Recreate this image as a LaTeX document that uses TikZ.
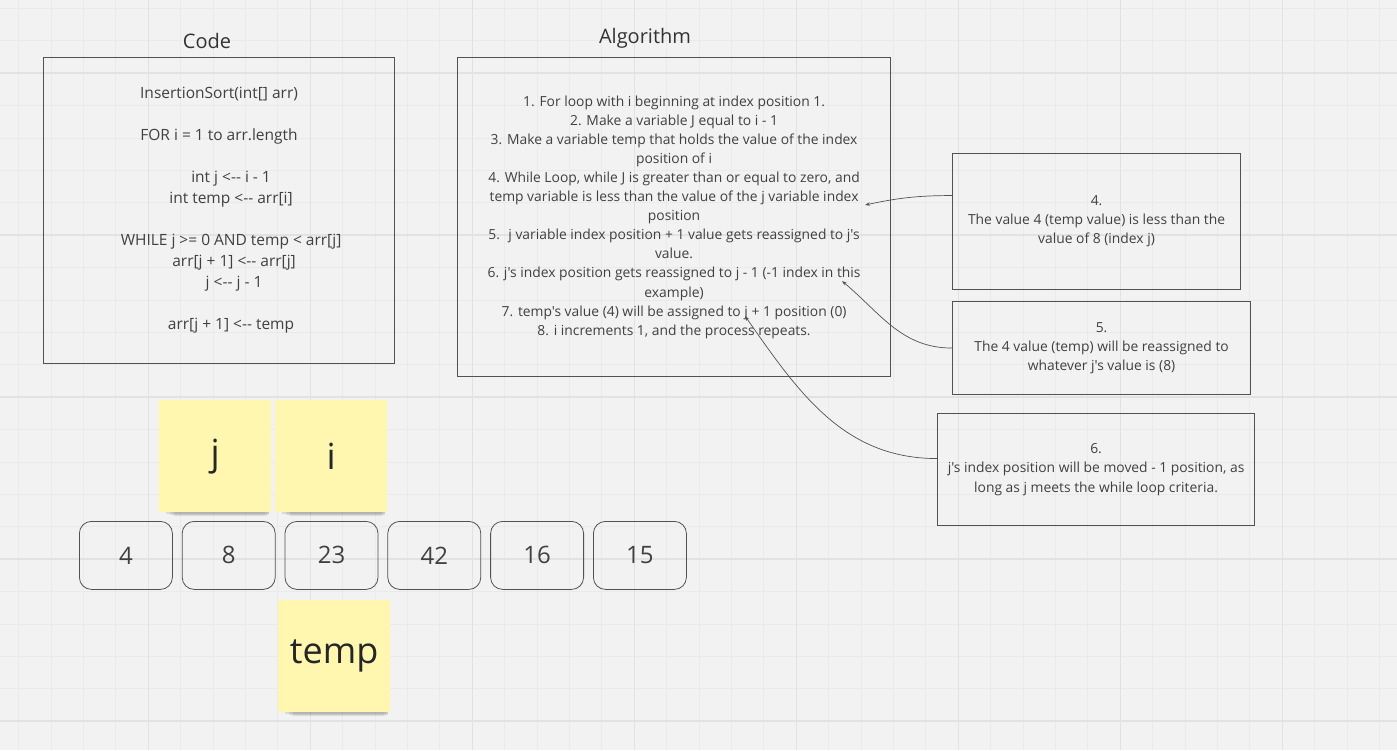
\documentclass[tikz,border=0pt]{standalone}
\usepackage{fontspec}
\setmainfont{Open Sans}[Ligatures=TeXOff]
\usetikzlibrary{positioning, arrows.meta, shadows}

\definecolor{boardgray}{HTML}{F2F2F2}
\definecolor{gridminor}{HTML}{EAEAEA}
\definecolor{gridmajor}{HTML}{E2E2E2}
\definecolor{framegray}{HTML}{525252}
\definecolor{inkgray}{HTML}{404040}
\definecolor{stickyyellow}{HTML}{FFF7B0}

\tikzset{
  framebox/.style={draw=framegray, line width=1.1pt, anchor=north west, align=center,
    text=inkgray, inner sep=0pt},
  arraycell/.style={draw=framegray, line width=0.8pt, rounded corners=12pt,
    minimum width=93pt, minimum height=68pt, text=inkgray,
    font=\fontsize{24}{28}\selectfont},
  stickynote/.style={fill=stickyyellow, anchor=north west, minimum width=112pt,
    minimum height=112pt, text=black!85, font=\fontsize{36}{40}\selectfont,
    general shadow={fill=black, opacity=0.10, shadow scale=0.92, shadow xshift=3pt, shadow yshift=-6.5pt},
    general shadow={fill=black, opacity=0.08, shadow scale=0.88, shadow xshift=5pt, shadow yshift=-10.7pt},
    general shadow={fill=black, opacity=0.06, shadow scale=0.84, shadow xshift=6pt, shadow yshift=-15pt},
    general shadow={fill=black, opacity=0.04, shadow scale=0.80, shadow xshift=6pt, shadow yshift=-19.2pt}},
  hintarrow/.style={draw=framegray, line width=0.7pt, -{Stealth[length=5pt, width=3.5pt]}},
  heading/.style={anchor=base, text=black!80, font=\fontsize{20}{24}\selectfont},
}

\begin{document}
\begin{tikzpicture}[x=1pt, y=-1pt]
    \def \indA {\hspace*{24pt}}
    \def \indB {\hspace*{30pt}}
    % Board
    \fill[boardgray] (0,0) rectangle (1397,750);
    \useasboundingbox (0,0) rectangle (1397,750);
    \foreach \gx in {0,...,42} {\draw[gridminor, line width=0.6pt] ({18.5+32.4*\gx},0) -- ({18.5+32.4*\gx},750);}
    \foreach \gy in {0,...,22} {\draw[gridminor, line width=0.6pt] (0,{8.2+32.4*\gy}) -- (1397,{8.2+32.4*\gy});}
    \foreach \gx in {0,...,7} {\draw[gridmajor, line width=1.2pt] ({148.1+162*\gx},0) -- ({148.1+162*\gx},750);}
    \foreach \gy in {0,...,4} {\draw[gridmajor, line width=1.2pt] (0,{73+162*\gy}) -- (1397,{73+162*\gy});}
    % Code
    \node[heading] (codetitle) at (207,48) {Code};
    \node[framebox, minimum width=351pt, minimum height=306pt, font=\fontsize{15.5}{21}\selectfont] (codebox) at (43,57)
      {InsertionSort(int[] arr)\\[21pt]
       FOR i = 1 to arr.length\\[21pt]
       \indA int j <-- i - 1\\
       \indA int temp <-- arr[i]\\[21pt]
       \indA WHILE j >= 0 AND temp < arr[j]\\
       \indB arr[j + 1] <-- arr[j]\\
       \indB j <-- j - 1\\[21pt]
       \indA arr[j + 1] <-- temp};
    % Algorithm
    \node[heading] (algotitle) at (645,43) {Algorithm};
    \node[framebox, minimum width=433pt, minimum height=319pt, font=\fontsize{13.85}{19.1}\selectfont] (algobox) at (457,57)
      {1. For loop with i beginning at index position 1.\\
       2. Make a variable J equal to i - 1\\
       3. Make a variable temp that holds the value of the index\\
       position of i\\
       4. While Loop, while J is greater than or equal to zero, and\\
       temp variable is less than the value of the j variable index\\
       position\\
       5.~ j variable index position + 1 value gets reassigned to j's\\
       value.\\
       6. j's index position gets reassigned to j - 1 (-1 index in this\\
       example)\\
       7. temp's value (4) will be assigned to j + 1 position (0)\\
       8. i increments 1, and the process repeats.};
    % Side notes
    \node[framebox, minimum width=288pt, minimum height=136pt, font=\fontsize{13.85}{19.1}\selectfont] (step4note) at (952,153)
      {4.\\The value 4 (temp value) is less than the\\value of 8 (index j)};
    \node[framebox, minimum width=298pt, minimum height=93pt, font=\fontsize{13.85}{19.1}\selectfont] (step5note) at (952,301)
      {5.\\The 4 value (temp) will be reassigned to\\whatever j's value is (8)};
    \node[framebox, minimum width=317pt, minimum height=112pt, font=\fontsize{13.85}{19.1}\selectfont] (step6note) at (937,413)
      {6.\\j's index position will be moved - 1 position, as\\long as j meets the while loop criteria.};
    % Pointers back into the algorithm
    \coordinate (tip4) at (865,205);
    \coordinate (tip5) at (842,281);
    \coordinate (tip6) at (745,316);
    \draw[hintarrow] ([yshift=26pt]step4note.west) to[out=180, in=12] (tip4);
    \draw[hintarrow] (step5note.west) to[out=180, in=-40] (tip5);
    \draw[hintarrow] ([yshift=11pt]step6note.west) to[out=180, in=-55] (tip6);
    % Sticky notes
    \node[stickynote] (jnote) at (159,400) {j};
    \node[stickynote] (inote) at (275,400) {i};
    \node[stickynote] (tempnote) at (278,600) {temp};
    % Array
    \node[arraycell, anchor=north west] (val4) at (79,521) {4};
    \node[arraycell, right=9pt of val4] (val8) {8};
    \node[arraycell, right=9pt of val8] (val23) {23};
    \node[arraycell, right=9pt of val23] (val42) {42};
    \node[arraycell, right=9pt of val42] (val16) {16};
    \node[arraycell, right=9pt of val16] (val15) {15};
\end{tikzpicture}
\end{document}
